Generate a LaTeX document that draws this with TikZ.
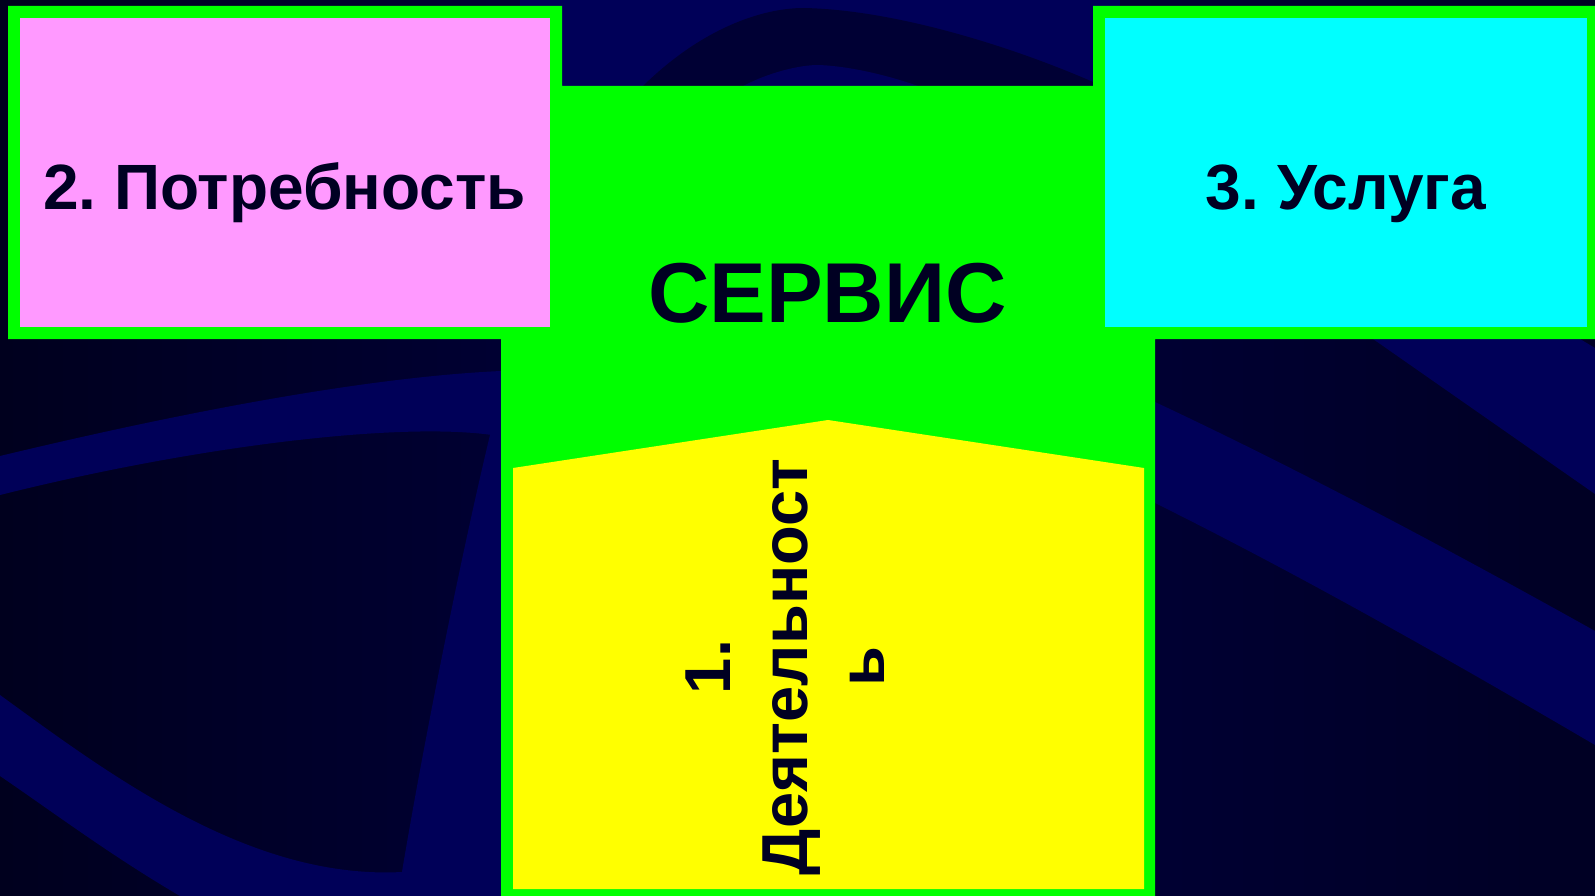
\documentclass[tikz,border=0pt]{standalone}
\usepackage{fontspec}
\setmainfont{Liberation Sans}
\frenchspacing

\definecolor{bgleft}{RGB}{0,0,30}
\definecolor{bgmid}{RGB}{0,0,62}
\definecolor{bgright}{RGB}{0,0,36}
\definecolor{bgband}{RGB}{0,0,88}
\definecolor{slidegreen}{RGB}{0,255,0}
\definecolor{slidepink}{RGB}{255,153,255}
\definecolor{slidecyan}{RGB}{0,255,255}
\definecolor{slideyellow}{RGB}{255,255,0}
\definecolor{ink}{RGB}{0,0,34}

\begin{document}
\begin{tikzpicture}[x=1pt, y=-1pt,
        boxtext/.style={font=\bfseries\fontsize{64}{77}\selectfont, text=ink, inner sep=0pt}]
            \useasboundingbox (0,0) rectangle (1595,896);
            % background
            \shade[left color=bgleft, right color=bgright, middle color=bgmid] (0,0) rectangle (1595,896);
            \fill[bgband] (0,456) .. controls (150,420) and (350,378) .. (501,371) -- (501,435) -- (492,435) .. controls (400,422) and (200,445) .. (0,495) -- cycle;
            \fill[bgband] (490,435) -- (501,435) -- (501,896) -- (398,896) .. controls (420,760) and (460,560) .. (490,435) -- cycle;
            \fill[bgband] (0,695) .. controls (110,775) and (250,880) .. (402,872) -- (410,896) -- (180,896) .. controls (110,855) and (50,810) .. (0,776) -- cycle;
            \fill[bgband] (1373,339) -- (1580,339) -- (1595,348) -- (1595,494) -- cycle;
            \fill[bgband] (1155,402) .. controls (1300,470) and (1450,550) .. (1595,631) -- (1595,745) .. controls (1450,660) and (1300,575) .. (1155,503) -- cycle;
            \fill[bgband] (520,0) rectangle (1120,86);
            \fill[bgmid!70!bgleft] (643,86) .. controls (700,30) and (760,8) .. (804,8) .. controls (900,10) and (1020,50) .. (1093,82) -- (1093,86) -- cycle;
            \fill[bgband] (743,86) .. controls (770,72) and (800,65) .. (818,65) .. controls (850,66) and (890,76) .. (918,86) -- cycle;
            % green frame
            \fill[slidegreen] (8,6) rectangle (562,339) (1093,6) rectangle (1595,339) (501,86) rectangle (1155,896);
            \fill[slidepink] (20,18) rectangle (550,327);
            \fill[slidecyan] (1105,18) rectangle (1587,327);
            \fill[slideyellow] (513,468) -- (828,420) -- (1144,468) -- (1144,889) -- (513,889) -- cycle;
            % texts
            \node[boxtext, anchor=base] (need) at (284.5,210) {2. Потребность};
            \node[boxtext, anchor=base] (offer) at (1346,210) {3. Услуга};
            \node[boxtext, anchor=base, font=\bfseries\fontsize{85}{100}\selectfont] (servis) at (827.5,322.7) {СЕРВИС};
            \node[boxtext, rotate=90, align=center, font=\bfseries\fontsize{65}{77}\selectfont] (activity) at (785,667) {1.\\Деятельност\\ь};
        \end{tikzpicture}
\end{document}
